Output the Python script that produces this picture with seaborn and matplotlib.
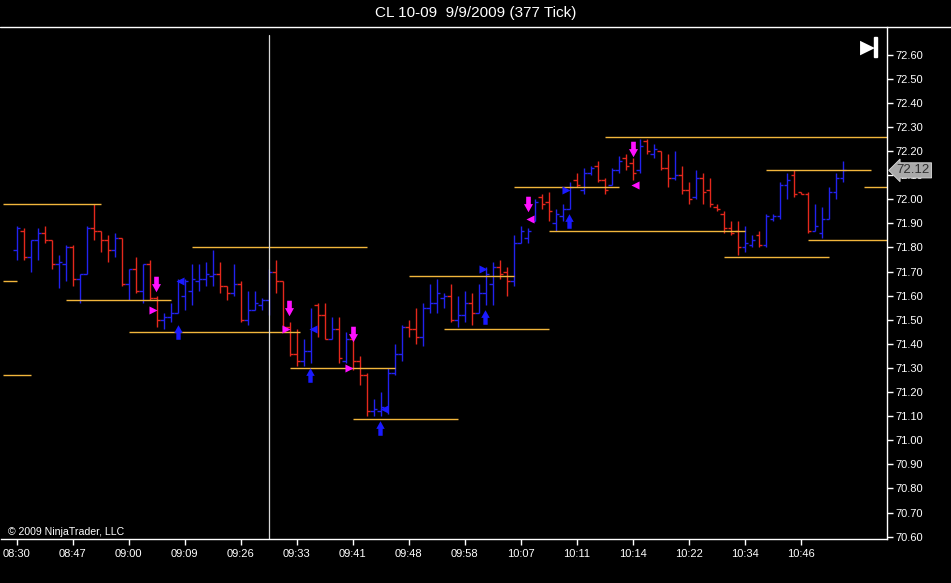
import numpy as np
import pandas as pd
import matplotlib.pyplot as plt
import seaborn as sns
from matplotlib.path import Path
from matplotlib.patches import Rectangle
from matplotlib.lines import Line2D

# OHLC values of the 377-tick bars
opens = [71.79, 71.87, 71.76, 71.83, 71.86, 71.83, 71.73, 71.73, 71.80, 71.67,
         71.69, 71.88, 71.87, 71.83, 71.79, 71.84, 71.65, 71.71, 71.62, 71.73,
         71.59, 71.50, 71.51, 71.53, 71.60, 71.62, 71.66, 71.67, 71.68, 71.69,
         71.64, 71.61, 71.65, 71.50, 71.54, 71.56, 71.58, 71.70, 71.66, 71.47,
         71.36, 71.33, 71.37, 71.56, 71.52, 71.42, 71.46, 71.33, 71.42, 71.33,
         71.27, 71.12, 71.12, 71.13, 71.28, 71.36, 71.47, 71.46, 71.43, 71.55,
         71.57, 71.59, 71.60, 71.50, 71.52, 71.57, 71.53, 71.61, 71.65, 71.72,
         71.70, 71.66, 71.82, 71.84, 71.91, 72.01, 71.99, 71.90, 71.93, 71.96,
         72.08, 72.04, 72.11, 72.14, 72.08, 72.06, 72.12, 72.17, 72.15, 72.12,
         72.24, 72.19, 72.20, 72.13, 72.09, 72.10, 72.04, 72.01, 72.09, 72.04,
         71.97, 71.94, 71.88, 71.87, 71.80, 71.81, 71.85, 71.81, 71.92, 71.93,
         72.06, 72.10, 72.03, 72.02, 71.87, 71.86, 71.92, 72.03, 72.09]
highs = [71.89, 71.88, 71.83, 71.88, 71.89, 71.83, 71.77, 71.81, 71.81, 71.69,
         71.89, 71.98, 71.87, 71.85, 71.86, 71.84, 71.71, 71.76, 71.73, 71.75,
         71.60, 71.53, 71.57, 71.67, 71.67, 71.73, 71.73, 71.74, 71.79, 71.74,
         71.64, 71.73, 71.66, 71.62, 71.62, 71.59, 71.71, 71.75, 71.66, 71.49,
         71.46, 71.42, 71.55, 71.57, 71.57, 71.51, 71.51, 71.45, 71.46, 71.35,
         71.28, 71.17, 71.20, 71.30, 71.40, 71.48, 71.50, 71.55, 71.57, 71.65,
         71.67, 71.61, 71.65, 71.60, 71.62, 71.61, 71.65, 71.72, 71.74, 71.75,
         71.72, 71.85, 71.89, 71.88, 72.00, 72.02, 72.03, 71.96, 71.98, 72.07,
         72.11, 72.13, 72.14, 72.16, 72.09, 72.13, 72.18, 72.19, 72.17, 72.25,
         72.25, 72.23, 72.20, 72.19, 72.20, 72.14, 72.07, 72.12, 72.11, 72.09,
         71.98, 71.95, 71.91, 71.91, 71.89, 71.85, 71.87, 71.94, 71.94, 72.07,
         72.11, 72.12, 72.03, 72.03, 71.98, 71.97, 72.05, 72.11, 72.16]
lows = [71.75, 71.75, 71.70, 71.75, 71.82, 71.71, 71.63, 71.66, 71.64, 71.57,
        71.69, 71.83, 71.78, 71.74, 71.76, 71.64, 71.58, 71.61, 71.57, 71.58,
        71.47, 71.46, 71.49, 71.53, 71.54, 71.56, 71.62, 71.64, 71.64, 71.61,
        71.58, 71.60, 71.49, 71.48, 71.54, 71.54, 71.52, 71.61, 71.46, 71.35,
        71.31, 71.31, 71.32, 71.43, 71.42, 71.42, 71.32, 71.32, 71.29, 71.23,
        71.10, 71.10, 71.10, 71.11, 71.27, 71.33, 71.43, 71.40, 71.39, 71.53,
        71.53, 71.55, 71.49, 71.47, 71.49, 71.48, 71.53, 71.56, 71.56, 71.67,
        71.60, 71.64, 71.82, 71.82, 71.91, 71.96, 71.91, 71.87, 71.91, 71.96,
        72.05, 72.02, 72.10, 72.07, 72.02, 72.06, 72.11, 72.12, 72.08, 72.11,
        72.19, 72.17, 72.12, 72.05, 72.08, 72.02, 71.98, 72.00, 71.98, 71.97,
        71.95, 71.86, 71.85, 71.77, 71.78, 71.80, 71.80, 71.80, 71.91, 71.92,
        72.00, 72.01, 72.02, 71.86, 71.87, 71.84, 71.92, 72.00, 72.07]
closes = [71.88, 71.76, 71.83, 71.86, 71.83, 71.73, 71.74, 71.80, 71.67, 71.69,
          71.88, 71.87, 71.83, 71.79, 71.84, 71.65, 71.71, 71.62, 71.73, 71.59,
          71.50, 71.51, 71.53, 71.66, 71.66, 71.67, 71.67, 71.69, 71.69, 71.64,
          71.61, 71.65, 71.50, 71.54, 71.57, 71.58, 71.70, 71.66, 71.47, 71.36,
          71.33, 71.37, 71.46, 71.52, 71.42, 71.46, 71.34, 71.42, 71.33, 71.27,
          71.12, 71.13, 71.14, 71.28, 71.36, 71.47, 71.46, 71.43, 71.55, 71.57,
          71.61, 71.60, 71.50, 71.52, 71.57, 71.53, 71.61, 71.69, 71.72, 71.69,
          71.66, 71.82, 71.87, 71.87, 71.99, 71.98, 71.95, 71.94, 71.96, 72.05,
          72.06, 72.11, 72.13, 72.08, 72.04, 72.12, 72.16, 72.14, 72.11, 72.22,
          72.20, 72.21, 72.13, 72.09, 72.10, 72.04, 72.00, 72.09, 72.03, 71.98,
          71.96, 71.88, 71.86, 71.80, 71.82, 71.83, 71.81, 71.93, 71.93, 72.06,
          72.08, 72.02, 72.02, 71.87, 71.89, 71.92, 72.03, 72.09, 72.12]

time_labels = ["08:30", "08:47", "09:00", "09:09", "09:26", "09:33", "09:41", "09:48",
               "09:58", "10:07", "10:11", "10:14", "10:22", "10:34", "10:46"]

# swing lines: start bar, end bar, price
line_start = [-2, -2, -2, 7, 25, 16, 39, 48, 56, 61, 71, 76, 84, 101, 107, 121, 113]
line_end = [12, 0, 2, 22, 50, 40.5, 54, 63, 71, 76, 86, 104, 125, 116, 122, 125, 125]
line_price = [71.98, 71.66, 71.27, 71.58, 71.80, 71.45, 71.30, 71.09, 71.68, 71.46,
              72.05, 71.87, 72.26, 71.76, 72.12, 72.05, 71.83]

# signal markers (bar, price)
sell_arrow_x = [19.9, 38.9, 48.0, 73.0, 88.0]
sell_arrow_y = [71.65, 71.55, 71.44, 71.98, 72.21]
buy_arrow_x = [23.0, 41.9, 51.9, 66.9, 78.9]
buy_arrow_y = [71.45, 71.27, 71.05, 71.51, 71.91]
mag_right_x = [19.5, 38.5, 47.5]
mag_right_y = [71.54, 71.46, 71.30]
mag_left_x = [73.3, 88.3]
mag_left_y = [71.92, 72.06]
blue_left_x = [23.3, 42.3, 52.4]
blue_left_y = [71.66, 71.46, 71.13]
blue_right_x = [66.6, 78.5]
blue_right_y = [71.71, 72.04]

last_price = 72.12
cursor_bar = 36

sns.set_style("dark", {"axes.facecolor": "black", "figure.facecolor": "black"})
plt.rcParams['font.family'] = ['Liberation Sans', 'DejaVu Sans']

bars = pd.DataFrame({"open": opens, "high": highs, "low": lows, "close": closes})
bars["i"] = np.arange(len(bars))
bars["color"] = np.where(bars["close"] >= bars["open"], "#2222ee", "#e4281c")

fig = plt.figure(figsize=(9.51, 5.83), dpi=100)
ax = fig.add_axes([1 / 951, 43.7 / 583, 886 / 951, 512.3 / 583])
ax.set_facecolor("black")

# OHLC bars
ax.vlines(bars["i"], bars["low"], bars["high"], colors=bars["color"], lw=1)
ax.hlines(bars["open"], bars["i"] - 0.48, bars["i"], colors=bars["color"], lw=1)
ax.hlines(bars["close"], bars["i"], bars["i"] + 0.48, colors=bars["color"], lw=1)

# swing lines
ax.hlines(line_price, line_start, line_end, colors="#f2b63c", lw=1)

# cursor
ax.axvline(cursor_bar, ymin=0, ymax=0.984, color="#d8d8d8", lw=0.9)

# arrow markers
down_arrow = Path([(-0.3, 1), (0.3, 1), (0.3, 0.05), (0.58, 0.05), (0, -1),
                   (-0.58, 0.05), (-0.3, 0.05), (-0.3, 1)],
                  [Path.MOVETO] + [Path.LINETO] * 6 + [Path.CLOSEPOLY])
up_arrow = Path([(x, -y) for x, y in down_arrow.vertices], down_arrow.codes)

sns.scatterplot(x=sell_arrow_x, y=sell_arrow_y, marker=down_arrow, s=125,
                color="#ff10ff", linewidth=0, ax=ax, zorder=5)
sns.scatterplot(x=buy_arrow_x, y=buy_arrow_y, marker=up_arrow, s=110,
                color="#1a1aff", linewidth=0, ax=ax, zorder=5)
sns.scatterplot(x=mag_right_x, y=mag_right_y, marker=">", s=34,
                color="#ff10ff", linewidth=0, ax=ax, zorder=5)
sns.scatterplot(x=mag_left_x, y=mag_left_y, marker="<", s=34,
                color="#ff10ff", linewidth=0, ax=ax, zorder=5)
sns.scatterplot(x=blue_left_x, y=blue_left_y, marker="<", s=34,
                color="#1a1aff", linewidth=0, ax=ax, zorder=5)
sns.scatterplot(x=blue_right_x, y=blue_right_y, marker=">", s=34,
                color="#1a1aff", linewidth=0, ax=ax, zorder=5)

ax.set_xlim(-2.24, 124.3)
ax.set_ylim(70.589, 72.715)

ax.set_xticks(np.arange(0, 8 * len(time_labels), 8))
ax.set_xticklabels(time_labels)
ax.set_yticks(np.round(np.arange(70.6, 72.61, 0.1), 2))
ax.yaxis.tick_right()
ax.yaxis.set_major_formatter(plt.FormatStrFormatter("%.2f"))
ax.tick_params(axis="both", colors="white", labelcolor="white", labelsize=8,
               length=4, width=1, direction="out", bottom=True, right=True, left=False)
ax.tick_params(axis="x", pad=3)
ax.tick_params(axis="y", pad=2)
ax.grid(False)
for side in ["bottom", "right"]:
    ax.spines[side].set_visible(True)
    ax.spines[side].set_color("white")
    ax.spines[side].set_linewidth(1)
for side in ["top", "left"]:
    ax.spines[side].set_visible(False)

# last price tag (covers the neighbouring tick label, as in NinjaTrader)
ax.text(1.011, last_price, f"{last_price:.2f}", transform=ax.get_yaxis_transform(),
        ha="left", va="center", fontsize=9.5, color="#303030", zorder=20, clip_on=False,
        bbox=dict(boxstyle="larrow,pad=0.12", fc="#a9a9a9", ec="#dcdcdc", lw=0.6))

# header line and title
fig.add_artist(Line2D([0, 1], [1 - 27 / 583, 1 - 27 / 583], color="white", lw=1,
                      transform=fig.transFigure))
fig.text(0.5, 1 - 13 / 583, "CL 10-09  9/9/2009 (377 Tick)", ha="center", va="center",
         color="white", fontsize=11)
fig.text(8 / 951, 1 - 532 / 583, "© 2009 NinjaTrader, LLC", ha="left", va="center",
         color="white", fontsize=7.6)

# play-to-end icon
fig.text(867 / 951, 1 - 47 / 583, "▶", ha="center", va="center", color="white",
         fontsize=14, family="DejaVu Sans")
fig.add_artist(Rectangle((874 / 951, 1 - 57 / 583), 3 / 951, 20 / 583, color="white",
                         transform=fig.transFigure))

fig.savefig("out.png", dpi=100, facecolor="black")
